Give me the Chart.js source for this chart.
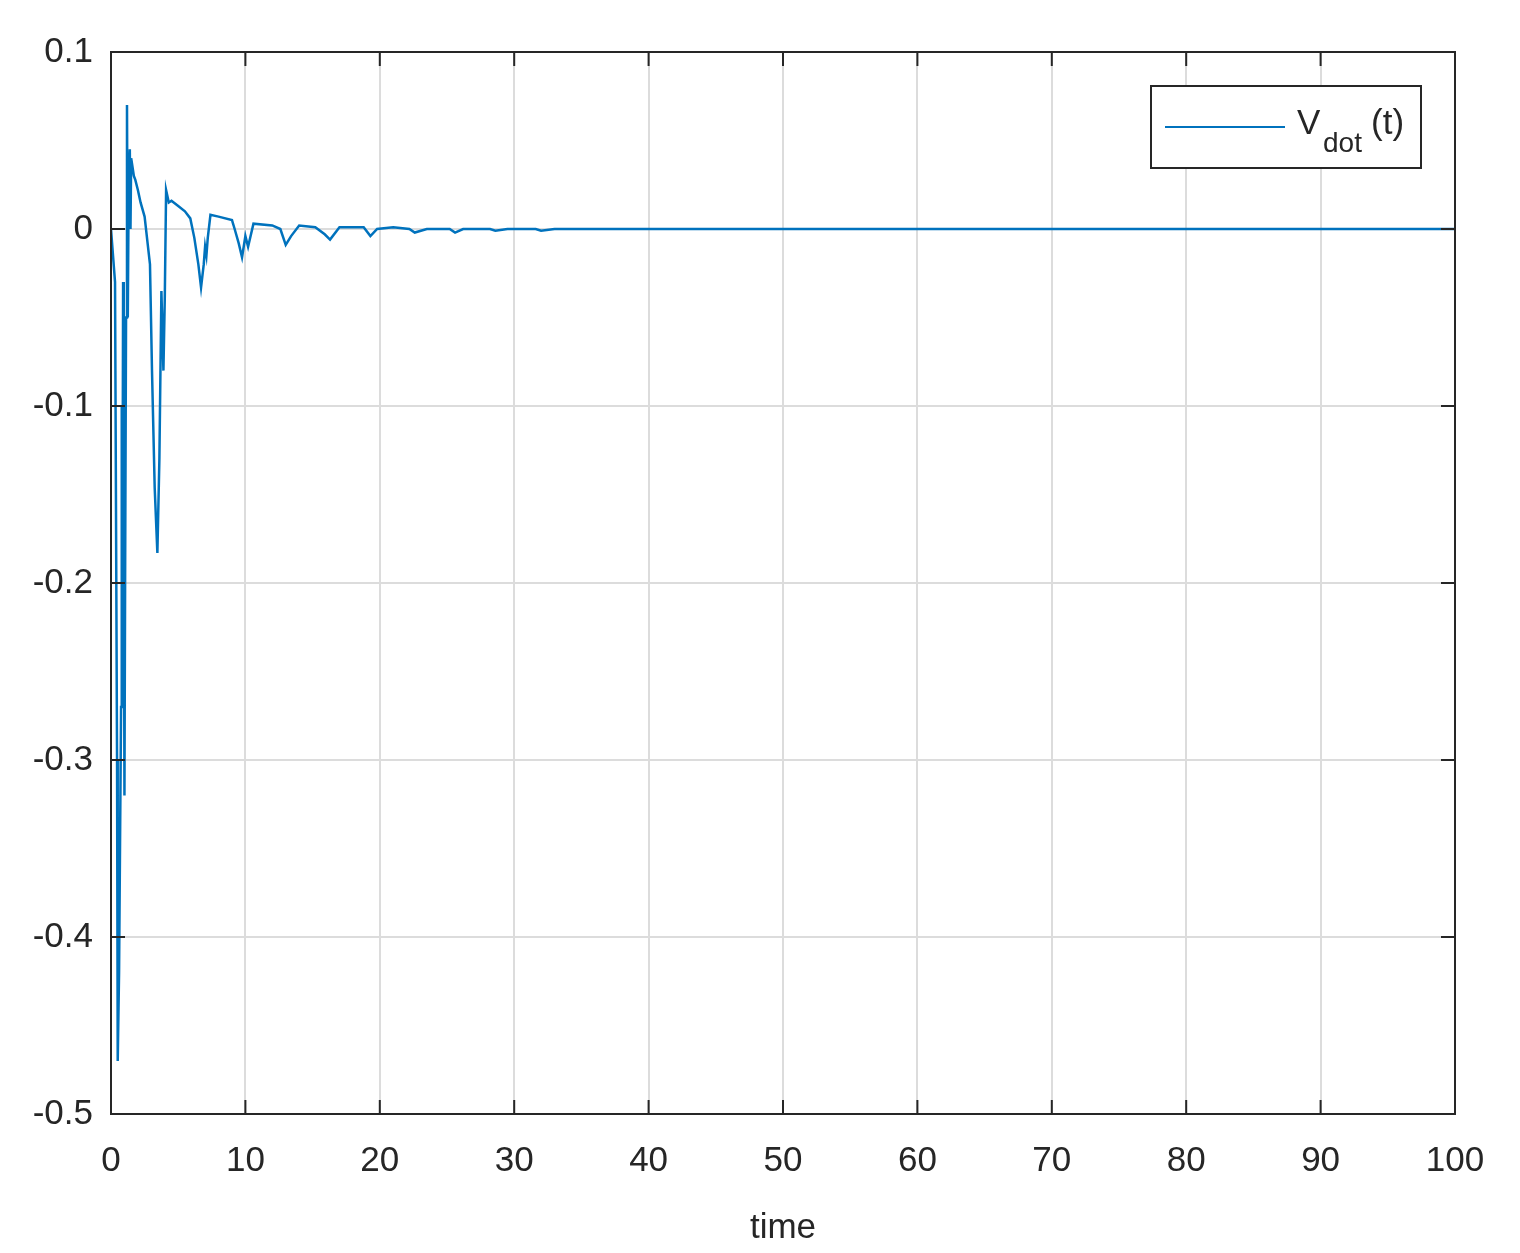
<!DOCTYPE html>
<html>
<head>
<meta charset="utf-8">
<script src="https://cdn.jsdelivr.net/npm/chart.js@4/dist/chart.umd.min.js"></script>
<style>
  body { margin: 0; background: #fff; }
  #wrap { width: 1520px; height: 1253px; }
</style>
</head>
<body>
<div id="wrap"><canvas id="vdot"></canvas></div>
<script>
const times = [0, 0.05, 0.3, 0.45, 0.5, 0.6, 0.75, 0.8, 0.85, 0.9, 0.95, 1.0, 1.05, 1.12, 1.19, 1.25, 1.32, 1.4, 1.45, 1.5, 1.6, 1.7, 1.8, 2.0, 2.2, 2.5, 2.9, 3.05, 3.25, 3.45, 3.6, 3.75, 3.9, 4.0, 4.1, 4.3, 4.5, 5.0, 5.5, 5.9, 6.2, 6.5, 6.7, 6.9, 7.0, 7.1, 7.2, 7.4, 8.0, 9.0, 9.2, 9.5, 9.75, 10.0, 10.2, 10.6, 12.0, 12.6, 13.0, 13.4, 14.0, 15.2, 15.9, 16.3, 17.0, 18.8, 19.3, 19.8, 21.0, 22.2, 22.6, 23.5, 25.2, 25.6, 26.2, 28.2, 28.6, 29.5, 31.6, 32.0, 33.0, 35, 38, 45, 60, 80, 100];
const vdot = [0, 0, -0.03, -0.3, -0.47, -0.42, -0.27, -0.1, -0.2, -0.03, -0.15, -0.32, -0.2, -0.05, 0.07, -0.05, 0.03, 0.045, 0.0, 0.04, 0.035, 0.03, 0.028, 0.022, 0.015, 0.007, -0.02, -0.08, -0.146, -0.183, -0.13, -0.035, -0.08, -0.04, 0.022, 0.015, 0.016, 0.013, 0.01, 0.006, -0.005, -0.02, -0.033, -0.02, -0.01, -0.015, -0.005, 0.008, 0.007, 0.005, 0.0, -0.008, -0.016, -0.004, -0.01, 0.003, 0.002, 0.0, -0.009, -0.004, 0.002, 0.001, -0.003, -0.006, 0.001, 0.001, -0.004, 0.0, 0.001, 0.0, -0.002, 0.0, 0.0, -0.002, 0.0, 0.0, -0.001, 0.0, 0.0, -0.001, 0.0, 0.0, 0.0, 0.0, 0.0, 0.0, 0.0];
const xTicks = [0, 10, 20, 30, 40, 50, 60, 70, 80, 90, 100];
const yTicks = [-0.5, -0.4, -0.3, -0.2, -0.1, 0, 0.1];

const axisColor = '#262626';
const font = { family: 'Liberation Sans, Arial, sans-serif', size: 35 };

// box, inward ticks and the legend, drawn like MATLAB does
const framePlugin = {
    id: 'frame',
    afterDraw(chart) {
        const { ctx, chartArea: a, scales } = chart;
        ctx.save();
        ctx.strokeStyle = axisColor;
        ctx.lineWidth = 2;
        ctx.strokeRect(a.left, a.top, a.right - a.left, a.bottom - a.top);
        const len = 14;
        ctx.beginPath();
        xTicks.forEach(t => {
            const x = scales.x.getPixelForValue(t);
            ctx.moveTo(x, a.bottom); ctx.lineTo(x, a.bottom - len);
            ctx.moveTo(x, a.top); ctx.lineTo(x, a.top + len);
        });
        yTicks.forEach(t => {
            const y = scales.y.getPixelForValue(t);
            ctx.moveTo(a.left, y); ctx.lineTo(a.left + len, y);
            ctx.moveTo(a.right, y); ctx.lineTo(a.right - len, y);
        });
        ctx.stroke();

        // legend
        const lx = a.right - 304, ly = a.top + 34;
        ctx.fillStyle = '#fff';
        ctx.fillRect(lx, ly, 270, 82);
        ctx.lineWidth = 2;
        ctx.strokeRect(lx, ly, 270, 82);
        ctx.strokeStyle = '#0072BD';
        ctx.beginPath();
        ctx.moveTo(lx + 14, ly + 41); ctx.lineTo(lx + 134, ly + 41);
        ctx.stroke();
        ctx.fillStyle = axisColor;
        ctx.textBaseline = 'alphabetic';
        ctx.font = '35px Liberation Sans, Arial, sans-serif';
        ctx.fillText('V', lx + 146, ly + 48);
        ctx.font = '28px Liberation Sans, Arial, sans-serif';
        ctx.fillText('dot', lx + 172, ly + 66);
        ctx.font = '35px Liberation Sans, Arial, sans-serif';
        ctx.fillText('(t)', lx + 220, ly + 48);
        ctx.restore();
    }
};

new Chart(document.getElementById('vdot'), {
    type: 'line',
    data: {
        datasets: [{
            label: 'V_dot(t)',
            data: times.map((t, i) => ({ x: t, y: vdot[i] })),
            borderColor: '#0072BD',
            borderWidth: 2.5,
            pointRadius: 0,
            tension: 0
        }]
    },
    options: {
        responsive: true,
        maintainAspectRatio: false,
        animation: false,
        layout: { padding: { top: 52, right: 65, left: 0, bottom: 0 } },
        plugins: { legend: { display: false }, tooltip: { enabled: false } },
        scales: {
            x: {
                type: 'linear',
                min: 0, max: 100,
                afterBuildTicks: s => { s.ticks = xTicks.map(v => ({ value: v })); },
                afterFit: s => { s.height = 139; },
                grid: { color: '#dcdcdc', lineWidth: 2, drawTicks: false },
                border: { display: false },
                ticks: { color: axisColor, font, padding: 26 },
                title: { display: true, text: 'time', color: axisColor, font, padding: { top: 0 } }
            },
            y: {
                min: -0.5, max: 0.1,
                afterBuildTicks: s => { s.ticks = yTicks.map(v => ({ value: v })); },
                afterFit: s => { s.width = 111; },
                grid: { color: '#dcdcdc', lineWidth: 2, drawTicks: false },
                border: { display: false },
                ticks: { color: axisColor, font, padding: 18, callback: v => String(Math.round(v * 10) / 10) }
            }
        }
    },
    plugins: [framePlugin]
});
</script>
</body>
</html>
